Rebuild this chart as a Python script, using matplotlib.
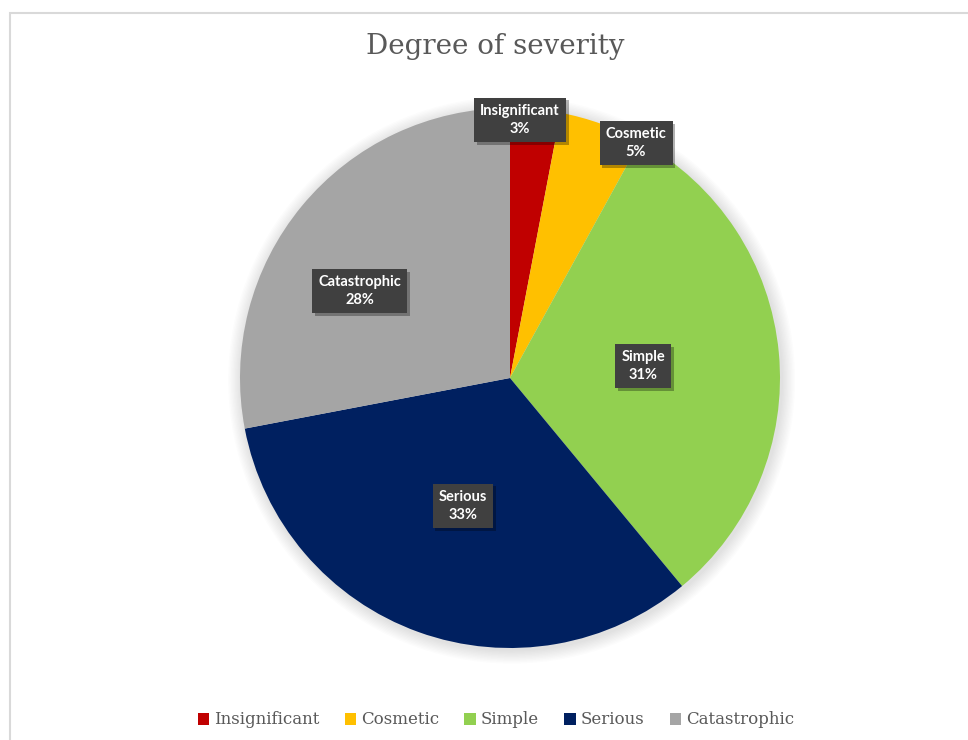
import matplotlib
matplotlib.use("Agg")
import matplotlib.pyplot as plt
import matplotlib.patheffects as pe
from matplotlib.patches import Rectangle, Circle

categories = ["Insignificant", "Cosmetic", "Simple", "Serious", "Catastrophic"]
shares = [3, 5, 31, 33, 28]
colors = ["#C00000", "#FFC000", "#92D050", "#002060", "#A5A5A5"]
# label box centres in pie units (radius = 1)
label_pos = [(0.037, 0.956), (0.467, 0.870), (0.493, 0.044), (-0.174, -0.474), (-0.556, 0.322)]

W, H = 968, 740
fig = plt.figure(figsize=(W / 100, H / 100), dpi=100)
fig.patch.set_facecolor("white")

# chart frame (only the left and top edges fall inside the image)
fig.add_artist(Rectangle((10 / W, -0.1), 1.2, (H - 13) / H + 0.1, transform=fig.transFigure,
                         fill=False, edgecolor="#d9d9d9", lw=1.5))

cx, cy, r = 510, 378, 270
ax = fig.add_axes([(cx - r) / W, (H - cy - r) / H, 2 * r / W, 2 * r / H])

# soft shadow around the pie
for i in range(10):
    ax.add_patch(Circle((0.006, -0.008), 1 + 0.005 * (i + 1), color="black",
                        alpha=0.012, lw=0, zorder=0, clip_on=False))

wedges, _ = ax.pie(shares, colors=colors, startangle=90, counterclock=False,
                   radius=1, wedgeprops=dict(linewidth=0))
for w in wedges:
    w.set_zorder(1)
    w.set_antialiased(True)
ax.set_xlim(-1, 1)
ax.set_ylim(-1, 1)
ax.set_aspect("equal")
ax.axis("off")

for name, val, (x, y) in zip(categories, shares, label_pos):
    t = ax.text(x, y, f"{name}\n{val}%", ha="center", va="center", color="white",
                fontsize=10.5, fontweight="bold", family="Lato", linespacing=1.4, zorder=5,
                bbox=dict(boxstyle="square,pad=0.42", facecolor="#404040", edgecolor="none"))
    t.get_bbox_patch().set_path_effects([
        pe.SimplePatchShadow(offset=(2, -2), shadow_rgbFace="black", alpha=0.3), pe.Normal()])

fig.text(495 / W, 1 - 46 / H, "Degree of severity", ha="center", va="center",
         fontsize=20, color="#595959", family="DejaVu Serif")

handles = [Rectangle((0, 0), 1, 1, facecolor=c, edgecolor="none") for c in colors]
fig.legend(handles, categories, loc="center", bbox_to_anchor=(496 / W, 1 - 720 / H),
           ncol=5, frameon=False, handlelength=0.7, handleheight=0.7, handletextpad=0.3,
           columnspacing=1.5, prop=dict(family="DejaVu Serif", size=12), labelcolor="#595959")

fig.savefig("out.png", dpi=100)
